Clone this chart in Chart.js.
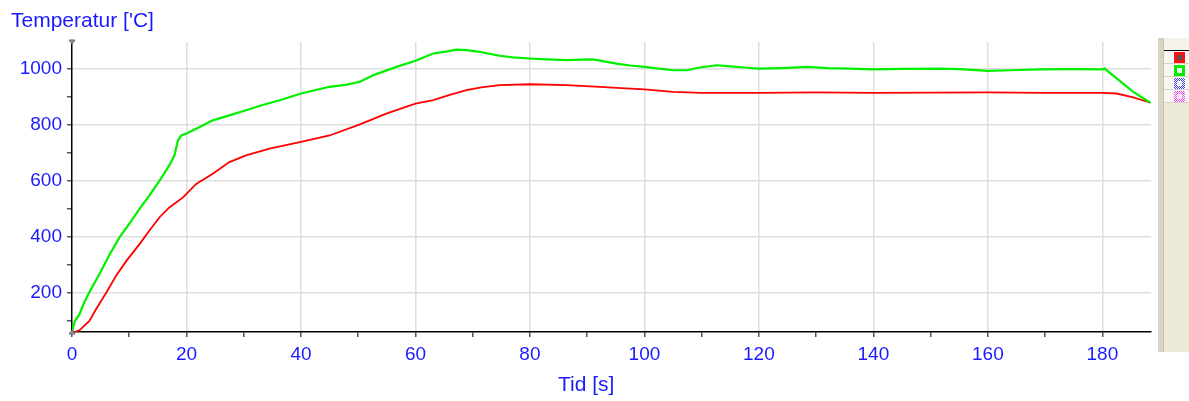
<!DOCTYPE html>
<html>
<head>
<meta charset="utf-8">
<script src="https://cdn.jsdelivr.net/npm/chart.js@4/dist/chart.umd.min.js"></script>
<style>
  body { margin: 0; background: #fff; font-family: "Liberation Sans", Arial, sans-serif; }
  #wrap { position: relative; width: 1189px; height: 401px; }
  #chart { position: absolute; left: 0; top: 0; }
  .lbl { position: absolute; color: #1a1aff; font-size: 21px; line-height: 21px; white-space: nowrap; }
  #panel { position: absolute; left: 1158px; top: 38px; width: 31px; height: 314px; background: #ece9d8; }
  #panel .strip { position: absolute; left: 0; top: 0; width: 5px; height: 100%; background: #d8d4c4; border-right: 1px solid #c8c4b4; }
  #panel .head { position: absolute; left: 6px; top: 0; right: 0; height: 12px; background: #f4f2ea; border-bottom: 1px solid #000; }
  #panel .row { position: absolute; left: 6px; right: 0; height: 12px; background: #f8f7f2; border-bottom: 1px solid #d6d3c6; }
  #panel .sq { position: absolute; left: 10px; top: 1px; width: 11px; height: 11px; }
  #panel .sq i { position: absolute; left: 3px; top: 3px; width: 5px; height: 5px; background: #eee; }
  .chk { background-size: 2px 2px; }
</style>
</head>
<body>
<div id="wrap">
  <canvas id="chart" width="1189" height="401"></canvas>
  <div class="lbl" style="left:11px; top:9px;">Temperatur ['C]</div>
  <div class="lbl" style="left:558px; top:373px;">Tid [s]</div>
  <div id="panel">
    <div class="strip"></div>
    <div class="head"></div>
    <div class="row" style="top:13px"><div class="sq" style="background:#ff1010;"><i style="background:#555;"></i></div></div>
    <div class="row" style="top:26px"><div class="sq" style="background:#00ee00;"><i></i></div></div>
    <div class="row" style="top:39px"><div class="sq chk" style="background-image:repeating-conic-gradient(#4040ff 0 25%, #ffffff 0 50%);"><i></i></div></div>
    <div class="row" style="top:52px"><div class="sq chk" style="background-image:repeating-conic-gradient(#ff40ff 0 25%, #ffffff 0 50%);"><i></i></div></div>
  </div>
</div>
<script>
// time [s] and temperature ['C]
const tGreen = [0, 0.5, 1.3, 2, 3, 4.8, 6.6, 8.3, 10, 11.8, 13.5, 15.3, 17, 17.9, 18.5, 19.1, 20, 21.7, 24.6, 27.5, 30.4, 33, 36.3, 40, 45, 48, 50.3, 52.6, 54.5, 56.7, 60, 63.1, 65, 67.2, 69, 71.2, 74.7, 77, 80, 83, 86.4, 89, 91, 93, 95.1, 97.5, 100, 102.5, 105.1, 107.4, 109.7, 112.6, 115, 117.5, 120, 124, 128.4, 132, 136, 140, 145, 151.7, 155, 160, 164, 169.1, 175, 180, 180.4, 182.5, 185.4, 188.4];
const green = [62, 100, 124, 160, 202, 268, 339, 399, 447, 501, 548, 602, 656, 692, 745, 763, 770, 787, 817, 835, 853, 870, 889, 913, 937, 945, 955, 978, 992, 1008, 1030, 1056, 1062, 1070, 1068, 1062, 1048, 1042, 1038, 1035, 1032, 1034, 1035, 1028, 1020, 1013, 1008, 1002, 996, 996, 1006, 1014, 1010, 1006, 1002, 1004, 1008, 1004, 1002, 999, 1001, 1002, 1000, 994, 996, 999, 1000, 999, 1002, 967, 919, 880];

const tRed = [0, 1.3, 3, 4.2, 6, 7.7, 9.5, 11.8, 13.5, 15.3, 17, 19.4, 21.7, 24.6, 27.5, 30.4, 34.5, 40, 45, 50.3, 54.9, 60, 63.1, 66, 68.9, 71.5, 74.7, 80, 86.4, 92.2, 96, 100, 105, 110, 120, 130, 140, 150, 160, 170, 180, 182.5, 185.4, 188.4];
const red = [58, 67, 100, 142, 202, 262, 315, 375, 423, 471, 506, 542, 590, 626, 668, 692, 716, 740, 763, 803, 841, 877, 889, 908, 925, 935, 943, 946, 943, 937, 932, 928, 919, 915, 915, 917, 915, 916, 917, 915, 915, 913, 899, 880];

const xMin = 0, xMax = 188.5;
const yMin = 61, yMax = 1097;

const toPts = (xs, ys) => xs.map((x, i) => ({ x: x, y: ys[i] }));

// small gray pins at the top and the foot of the value axis
const pins = {
  id: 'pins',
  afterDraw(chart) {
    const ctx = chart.ctx, a = chart.chartArea;
    ctx.save();
    ctx.fillStyle = '#999';
    ctx.strokeStyle = '#666';
    ctx.beginPath();
    ctx.moveTo(a.left - 3, a.top - 2); ctx.lineTo(a.left + 3, a.top - 2); ctx.lineTo(a.left, a.top + 2); ctx.closePath();
    ctx.fill(); ctx.stroke();
    ctx.beginPath();
    ctx.moveTo(a.left - 3, a.bottom + 2); ctx.lineTo(a.left + 3, a.bottom + 2); ctx.lineTo(a.left, a.bottom - 2); ctx.closePath();
    ctx.fill(); ctx.stroke();
    ctx.restore();
  }
};

new Chart(document.getElementById('chart'), {
  type: 'line',
  data: {
    datasets: [
      { label: 'T2', data: toPts(tGreen, green), borderColor: '#00f000', borderWidth: 2.2, pointRadius: 0, tension: 0 },
      { label: 'T1', data: toPts(tRed, red), borderColor: '#ff0000', borderWidth: 1.8, pointRadius: 0, tension: 0 }
    ]
  },
  options: {
    responsive: false,
    animation: false,
    layout: { padding: { top: 42, right: 38, left: 0, bottom: 0 } },
    plugins: { legend: { display: false }, tooltip: { enabled: false } },
    scales: {
      x: {
        type: 'linear', min: xMin, max: xMax,
        afterFit(s) { s.height = 69; },
        border: { color: '#000', width: 1.5 },
        grid: {
          color: c => (c.tick && c.tick.value % 20 === 0 && c.tick.value > 0) ? '#dedede' : 'transparent',
          lineWidth: 1.5, tickLength: 5, tickColor: '#555'
        },
        ticks: {
          stepSize: 10, includeBounds: false, autoSkip: false, maxRotation: 0, padding: 6,
          color: '#1a1aff', font: { family: 'Liberation Sans', size: 19 },
          callback: v => v % 20 === 0 ? String(v) : ''
        }
      },
      y: {
        type: 'linear', min: yMin, max: yMax,
        afterFit(s) { s.width = 72; },
        border: { color: '#000', width: 1.5 },
        grid: {
          color: c => (c.tick && c.tick.value % 200 === 0) ? '#dedede' : 'transparent',
          lineWidth: 1.5, tickLength: 5, tickColor: '#555'
        },
        ticks: {
          stepSize: 100, includeBounds: false, autoSkip: false, padding: 5,
          color: '#1a1aff', font: { family: 'Liberation Sans', size: 19 },
          callback: v => v % 200 === 0 ? String(v) : ''
        }
      }
    }
  },
  plugins: [pins]
});
</script>
</body>
</html>
